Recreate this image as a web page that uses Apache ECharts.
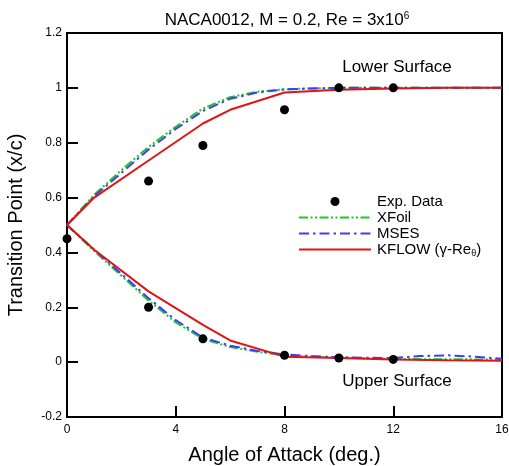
<!DOCTYPE html>
<html>
<head>
<meta charset="utf-8">
<script src="https://cdn.jsdelivr.net/npm/echarts@6/dist/echarts.min.js"></script>
<style>html,body{margin:0;padding:0;background:#fff;}#c{width:509px;height:466px;}</style>
</head>
<body>
<div id="c"></div>
<script>
// Angles of attack (deg.)
const angles = [0,1,2,3,4,5,6,7,8,9,10,11,12,13,14,15,16];
const kflowAngles = [0,1,3,5,6,8,10,12,14,16];
const expAnglesLower = [0,3,5,8,10,12];
const expAnglesUpper = [3,5,8,10,12];

// Lower surface transition point (x/c)
const xfoilLower = [0.5,0.61,0.70,0.785,0.858,0.925,0.966,0.986,0.995,0.998,1,1,1,1,1,1,1];
const msesLower  = [0.5,0.605,0.69,0.775,0.85,0.916,0.96,0.983,0.994,0.998,1,1,1,1,1,1,1];
const kflowLower = [0.5,0.6,0.735,0.87,0.92,0.983,0.993,0.998,1.0,1.0];
const expLower   = [0.45,0.66,0.79,0.92,1.0,1.0];

// Upper surface transition point (x/c)
const xfoilUpper = [0.5,0.405,0.315,0.225,0.145,0.085,0.055,0.038,0.025,0.02,0.017,0.014,0.012,0.011,0.011,0.01,0.009];
const msesUpper  = [0.5,0.41,0.322,0.233,0.153,0.09,0.06,0.041,0.028,0.022,0.018,0.016,0.015,0.022,0.025,0.02,0.012];
const kflowUpper = [0.5,0.41,0.258,0.136,0.079,0.02,0.015,0.01,0.007,0.005];
const expUpper   = [0.2,0.085,0.025,0.015,0.01];

const xTicks = {min:0, max:16, interval:4};
const yTicks = {min:-0.2, max:1.2, interval:0.2};

const FONT = '"Liberation Sans", Arial, sans-serif';
const zip = (xs, ys) => xs.map((x,i)=>[x, ys[i]]);

const GREEN = '#1ec81e', BLUE = '#3c3cff', RED = '#e01414';
const xfoilDash = [9,2.5,2,2.5,2,2.5];
const msesDash = [10,4,2.5,4];

const chart = echarts.init(document.getElementById('c'), null, {renderer:'canvas'});
const hideSym = {opacity: 0};
chart.setOption({
  animation: false,
  backgroundColor: '#fff',
  textStyle: {fontFamily: FONT},
  title: {
    text: 'NACA0012, M = 0.2, Re = 3x10{sup|6}',
    left: 282, top: 6, textAlign: 'center',
    textStyle: {fontFamily: FONT, fontSize: 17, fontWeight: 'normal', color: '#000',
      rich: {sup: {fontFamily: FONT, fontSize: 10, verticalAlign: 'top', padding:[0,0,9,0], color:'#000'}}}
  },
  grid: {left: 67, right: 7, top: 33, bottom: 49, show: true, borderColor: '#000', borderWidth: 2,
    containLabel: false, outerBoundsMode: 'none'},
  xAxis: {
    type: 'value', min: xTicks.min, max: xTicks.max, interval: xTicks.interval,
    name: 'Angle of Attack (deg.)', nameLocation: 'middle', nameGap: 28,
    nameTextStyle: {fontFamily: FONT, fontSize: 20, color: '#000'},
    axisLine: {onZero: false, lineStyle: {color: '#000', width: 2}},
    axisTick: {inside: true, length: 11, lineStyle: {color: '#000', width: 2}},
    axisLabel: {margin: 7, fontFamily: FONT, fontSize: 12, color: '#000'},
    splitLine: {show: false}
  },
  yAxis: {
    type: 'value', min: yTicks.min, max: yTicks.max, interval: yTicks.interval,
    name: 'Transition Point (x/c)', nameLocation: 'middle', nameGap: 41,
    nameTextStyle: {fontFamily: FONT, fontSize: 20, color: '#000'},
    axisLine: {onZero: false, lineStyle: {color: '#000', width: 2}},
    axisTick: {inside: true, length: 11, lineStyle: {color: '#000', width: 2}},
    axisLabel: {margin: 5, fontFamily: FONT, fontSize: 12, color: '#000',
      formatter: v => String(Math.round(v*10)/10)},
    splitLine: {show: false}
  },
  legend: {
    orient: 'vertical', left: 293, top: 189,
    itemWidth: 72, itemHeight: 9, itemGap: 1,
    data: [
      {name: 'Exp. Data'},
      {name: 'XFoil', itemStyle: hideSym},
      {name: 'MSES', itemStyle: hideSym},
      {name: 'KFLOW', itemStyle: hideSym}
    ],
    formatter: n => n === 'KFLOW' ? 'KFLOW (γ-Re{sub|θ})' : n,
    textStyle: {fontFamily: FONT, fontSize: 15, color: '#000', padding: [0,0,0,1],
      rich: {sub: {fontFamily: FONT, fontSize: 9, verticalAlign: 'bottom', padding: [9,0,0,0], color:'#000'}}}
  },
  graphic: [
    {type: 'text', x: 397, y: 67, style: {text: 'Lower Surface', font: '17px ' + FONT, fill: '#000', align: 'center', verticalAlign: 'middle'}},
    {type: 'text', x: 397, y: 381, style: {text: 'Upper Surface', font: '17px ' + FONT, fill: '#000', align: 'center', verticalAlign: 'middle'}}
  ],
  series: [
    {name: 'XFoil', type: 'line', data: zip(angles, xfoilLower), symbol: 'none', z: 2,
      lineStyle: {color: GREEN, width: 2, type: xfoilDash}, itemStyle: {color: GREEN}},
    {name: 'XFoil', type: 'line', data: zip(angles, xfoilUpper), symbol: 'none', z: 2,
      lineStyle: {color: GREEN, width: 2, type: xfoilDash}, itemStyle: {color: GREEN}},
    {name: 'MSES', type: 'line', data: zip(angles, msesLower), symbol: 'none', z: 3,
      lineStyle: {color: BLUE, width: 2, type: msesDash}, itemStyle: {color: BLUE}},
    {name: 'MSES', type: 'line', data: zip(angles, msesUpper), symbol: 'none', z: 3,
      lineStyle: {color: BLUE, width: 2, type: msesDash}, itemStyle: {color: BLUE}},
    {name: 'KFLOW', type: 'line', data: zip(kflowAngles, kflowLower), symbol: 'none', z: 4,
      lineStyle: {color: RED, width: 2}, itemStyle: {color: RED}},
    {name: 'KFLOW', type: 'line', data: zip(kflowAngles, kflowUpper), symbol: 'none', z: 4,
      lineStyle: {color: RED, width: 2}, itemStyle: {color: RED}},
    {name: 'Exp. Data', type: 'scatter', z: 5, symbol: 'circle', symbolSize: 9, symbolKeepAspect: true,
      data: zip(expAnglesLower, expLower).concat(zip(expAnglesUpper, expUpper)),
      itemStyle: {color: '#000', opacity: 1}}
  ]
});
</script>
</body>
</html>
